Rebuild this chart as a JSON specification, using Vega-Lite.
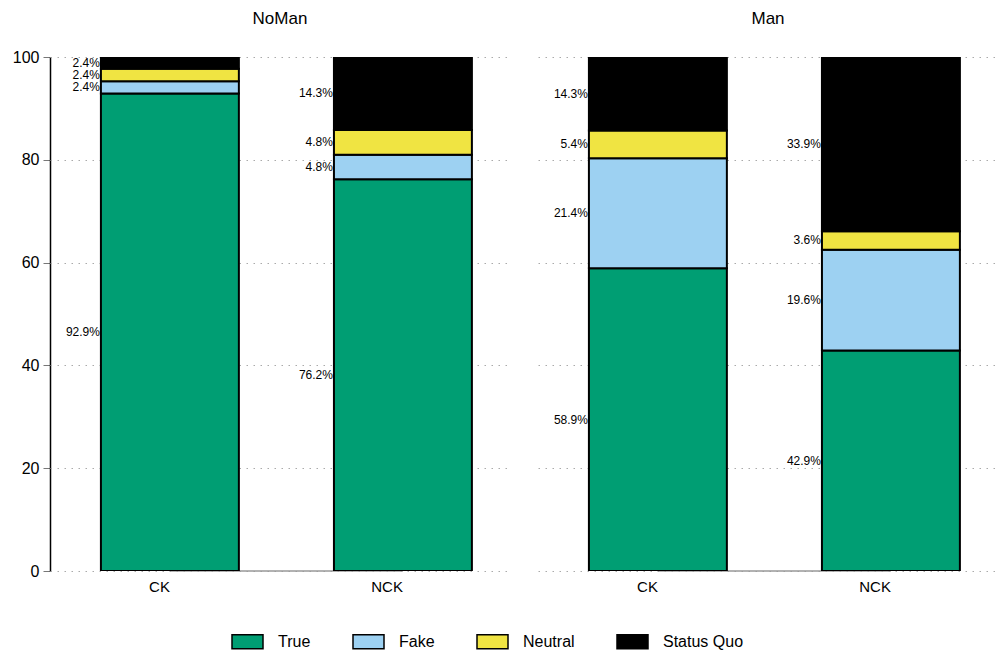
{
  "$schema": "https://vega.github.io/schema/vega-lite/v6.json",
  "padding": {"left": 5, "right": 0, "top": 10, "bottom": 0},
  "background": "white",
  "data": {"values": [
    {"panel": "NoMan", "group": "CK", "outcome": "True", "k": 1, "pct": 92.9, "label": "92.9%", "kind": "bar"},
    {"panel": "NoMan", "group": "CK", "outcome": "Fake", "k": 2, "pct": 2.4, "label": "2.4%", "kind": "bar"},
    {"panel": "NoMan", "group": "CK", "outcome": "Neutral", "k": 3, "pct": 2.4, "label": "2.4%", "kind": "bar"},
    {"panel": "NoMan", "group": "CK", "outcome": "Status Quo", "k": 4, "pct": 2.4, "label": "2.4%", "kind": "bar"},
    {"panel": "NoMan", "group": "NCK", "outcome": "True", "k": 1, "pct": 76.2, "label": "76.2%", "kind": "bar"},
    {"panel": "NoMan", "group": "NCK", "outcome": "Fake", "k": 2, "pct": 4.8, "label": "4.8%", "kind": "bar"},
    {"panel": "NoMan", "group": "NCK", "outcome": "Neutral", "k": 3, "pct": 4.8, "label": "4.8%", "kind": "bar"},
    {"panel": "NoMan", "group": "NCK", "outcome": "Status Quo", "k": 4, "pct": 14.3, "label": "14.3%", "kind": "bar"},
    {"panel": "Man", "group": "CK", "outcome": "True", "k": 1, "pct": 58.9, "label": "58.9%", "kind": "bar"},
    {"panel": "Man", "group": "CK", "outcome": "Fake", "k": 2, "pct": 21.4, "label": "21.4%", "kind": "bar"},
    {"panel": "Man", "group": "CK", "outcome": "Neutral", "k": 3, "pct": 5.4, "label": "5.4%", "kind": "bar"},
    {"panel": "Man", "group": "CK", "outcome": "Status Quo", "k": 4, "pct": 14.3, "label": "14.3%", "kind": "bar"},
    {"panel": "Man", "group": "NCK", "outcome": "True", "k": 1, "pct": 42.9, "label": "42.9%", "kind": "bar"},
    {"panel": "Man", "group": "NCK", "outcome": "Fake", "k": 2, "pct": 19.6, "label": "19.6%", "kind": "bar"},
    {"panel": "Man", "group": "NCK", "outcome": "Neutral", "k": 3, "pct": 3.6, "label": "3.6%", "kind": "bar"},
    {"panel": "Man", "group": "NCK", "outcome": "Status Quo", "k": 4, "pct": 33.9, "label": "33.9%", "kind": "bar"},
    {"panel": "NoMan", "group": "CK", "group2": "NCK", "pct": 0, "kind": "base"},
    {"panel": "Man", "group": "CK", "group2": "NCK", "pct": 0, "kind": "base"}
  ]},
  "facet": {
    "column": {
      "field": "panel", "type": "nominal", "sort": ["NoMan", "Man"],
      "header": {"title": null, "labelFontSize": 17, "labelFont": "Liberation Sans", "labelColor": "black", "labelPadding": 28}
    }
  },
  "spacing": 28,
  "spec": {
    "width": 460,
    "height": 514,
    "layer": [
      {
        "transform": [{"filter": "datum.kind === 'base'"}],
        "mark": {"type": "rule", "color": "#999999", "strokeWidth": 1.5},
        "encoding": {
          "x": {"field": "group", "type": "nominal"},
          "x2": {"field": "group2"},
          "y": {"field": "pct", "type": "quantitative"}
        }
      },
      {
        "transform": [{"filter": "datum.kind === 'bar'"}],
        "mark": {"type": "bar", "stroke": "black", "strokeWidth": 2, "clip": true},
        "encoding": {
          "x": {"field": "group", "type": "nominal", "sort": ["CK", "NCK"],
                "scale": {"paddingInner": 0.408, "paddingOuter": 0.191, "align": 0.572},
                "axis": {"title": null, "domain": false, "ticks": false, "labelAngle": 0, "labelFontSize": 15, "labelPadding": 14, "grid": false}},
          "y": {"field": "pct", "type": "quantitative", "stack": "zero",
                "scale": {"domain": [0, 100], "nice": false},
                "axis": {"title": null, "values": [0, 20, 40, 60, 80, 100]}},
          "color": {"field": "outcome", "type": "nominal",
                    "scale": {"domain": ["True", "Fake", "Neutral", "Status Quo"], "range": ["#009E73", "#9DD1F2", "#F0E442", "#000000"]},
                    "legend": {"title": null, "orient": "none", "direction": "horizontal", "legendX": 181, "legendY": 568}},
          "order": {"field": "k", "type": "quantitative"}
        }
      },
      {
        "transform": [{"filter": "datum.kind === 'bar'"}],
        "mark": {"type": "text", "align": "right", "baseline": "middle", "dx": -1, "fontSize": 12, "color": "black"},
        "encoding": {
          "x": {"field": "group", "type": "nominal", "sort": ["CK", "NCK"], "bandPosition": 0},
          "y": {"field": "pct", "type": "quantitative", "stack": "zero", "bandPosition": 0.5},
          "text": {"field": "label"},
          "order": {"field": "k", "type": "quantitative"}
        }
      }
    ]
  },
  "config": {
    "font": "Liberation Sans",
    "view": {"stroke": null},
    "axis": {"labelFont": "Liberation Sans", "labelColor": "black"},
    "axisY": {
      "domain": true, "domainColor": "black", "domainWidth": 1.5,
      "ticks": true, "tickColor": "#777777", "tickSize": 7, "tickWidth": 1,
      "labelFontSize": 16, "labelPadding": 4, "minExtent": 45,
      "grid": true, "gridColor": "#aaaaaa", "gridDash": [1.5, 5.5], "gridWidth": 1
    },
    "legend": {
      "labelFont": "Liberation Sans", "labelFontSize": 16, "labelColor": "black",
      "symbolType": "M-1,-0.45H1V0.45H-1Z", "symbolSize": 961,
      "symbolStrokeColor": "black", "symbolStrokeWidth": 1.5, "symbolOpacity": 1,
      "labelOffset": 14, "columnPadding": 39, "padding": 0
    }
  }
}
